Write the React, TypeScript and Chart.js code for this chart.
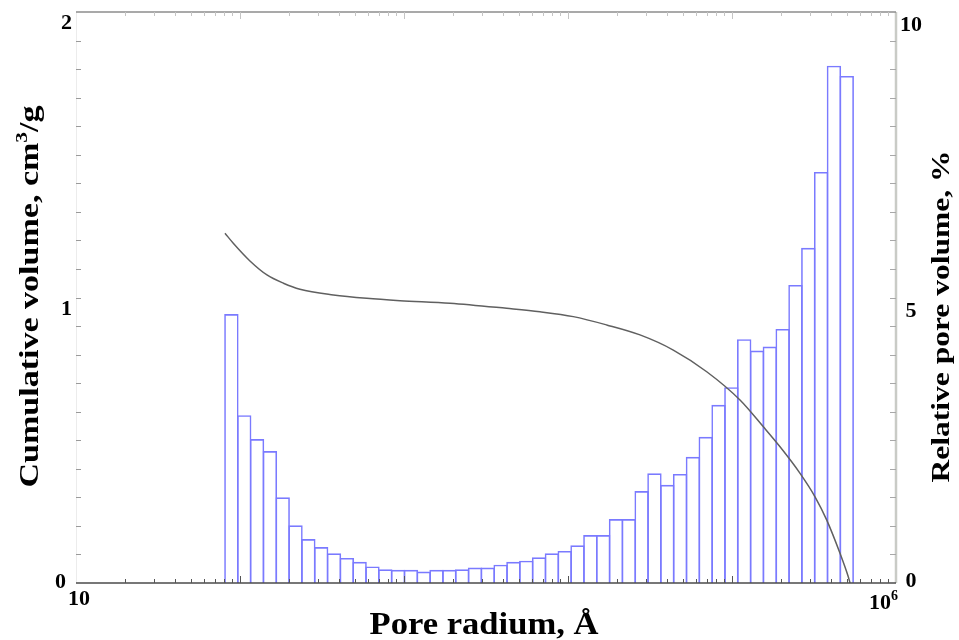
import React, { useEffect, useRef } from "react";
import { Chart, registerables } from "chart.js";

Chart.register(...registerables);

// Histogram bins (pore radius bin centres, Å) and relative pore volume (%)
const binCenters = [
  88.6, 106.1, 127.0, 152.1, 182.1, 218.0, 261.0, 312.5, 374.1, 447.9, 536.2, 642.0, 768.6, 920.0,
  1102, 1319, 1579, 1890, 2263, 2709, 3243, 3883, 4648, 5565, 6662, 7976, 9550, 11430, 13690, 16390,
  19620, 23490, 28120, 33660, 40300, 48250, 57770, 69160, 82800, 99100, 118700, 142100, 170100,
  203700, 243800, 291900, 349400, 418300, 500800,
];
const relativeVolume = [
  4.71, 2.94, 2.52, 2.31, 1.5, 1.01, 0.77, 0.63, 0.52, 0.44, 0.37, 0.29, 0.24, 0.23, 0.23, 0.2, 0.23,
  0.23, 0.24, 0.27, 0.27, 0.32, 0.37, 0.39, 0.45, 0.52, 0.56, 0.66, 0.84, 0.84, 1.12, 1.12, 1.61, 1.92,
  1.72, 1.91, 2.21, 2.56, 3.12, 3.43, 4.27, 4.07, 4.14, 4.45, 5.22, 5.87, 7.2, 9.06, 8.88,
];

// Cumulative volume curve (cm3/g) vs pore radius (Å)
const curveRadius = [
  81, 91, 115, 146, 184, 232, 371, 593, 946, 1907, 4226, 6745, 10770, 17200, 27480, 43850, 70130,
  111900, 155300, 196300, 260000, 320800, 377700, 455600, 511700, 524500,
];
const cumulativeVolume = [
  1.225, 1.19, 1.128, 1.079, 1.05, 1.029, 1.009, 0.997, 0.989, 0.98, 0.962, 0.95, 0.933, 0.904, 0.869,
  0.816, 0.74, 0.641, 0.547, 0.477, 0.384, 0.302, 0.221, 0.104, 0.022, 0,
];

// Tick values and labels
const xTickValues = [10, 1e6];
const xTickLabels = ["10", "10^6"];
const leftTickValues = [0, 1, 2];
const leftTickLabels = ["0", "1", "2"];
const rightTickValues = [0, 5, 10];
const rightTickLabels = ["0", "5", "10"];

const xTitle = "Pore radium, Å";
const leftTitle = "Cumulative volume, cm^3/g";
const rightTitle = "Relative pore volume, %";

const FONT = '"Liberation Serif", "Times New Roman", serif';

type Part = { t: string; size: number; dy: number };

function parts(text: string, size: number): Part[] {
  const out: Part[] = [];
  const re = /\^(\w)/g;
  let last = 0;
  let m: RegExpExecArray | null;
  while ((m = re.exec(text))) {
    if (m.index > last) out.push({ t: text.slice(last, m.index), size, dy: 0 });
    out.push({ t: m[1], size: Math.round(size * 0.62), dy: -Math.round(size * 0.42) });
    last = m.index + m[0].length;
  }
  if (last < text.length) out.push({ t: text.slice(last), size, dy: 0 });
  return out;
}

function drawText(
  ctx: CanvasRenderingContext2D,
  ps: Part[],
  x: number,
  y: number,
  rot: number,
  align: "left" | "center" | "right",
  targetLen?: number
) {
  ctx.save();
  let total = 0;
  const widths = ps.map((p) => {
    ctx.font = `bold ${p.size}px ${FONT}`;
    const w = ctx.measureText(p.t).width;
    total += w;
    return w;
  });
  const s = targetLen ? targetLen / total : 1;
  ctx.translate(x, y);
  ctx.rotate(rot);
  ctx.scale(s, 1);
  let cx = align === "center" ? -total / 2 : align === "right" ? -total : 0;
  ctx.fillStyle = "#000";
  ctx.textAlign = "left";
  ctx.textBaseline = "alphabetic";
  ps.forEach((p, i) => {
    ctx.font = `bold ${p.size}px ${FONT}`;
    ctx.fillText(p.t, cx, p.dy);
    cx += widths[i];
  });
  ctx.restore();
}

const framePlugin = {
  id: "frameAndLabels",
  afterDatasetsDraw(chart: any) {
    const ctx: CanvasRenderingContext2D = chart.ctx;
    const { left, right, top, bottom } = chart.chartArea;
    const xs = chart.scales.x;
    const yl = chart.scales.y;
    const yr = chart.scales.y1;
    ctx.save();
    // left faint border
    ctx.strokeStyle = "#ececec";
    ctx.lineWidth = 1;
    ctx.beginPath();
    ctx.moveTo(left + 0.5, top);
    ctx.lineTo(left + 0.5, bottom);
    ctx.stroke();
    // right border
    ctx.strokeStyle = "#c9cbc6";
    ctx.lineWidth = 2.5;
    ctx.beginPath();
    ctx.moveTo(right, top);
    ctx.lineTo(right, bottom);
    ctx.stroke();
    // top border
    ctx.strokeStyle = "#8c8c8c";
    ctx.lineWidth = 1.5;
    ctx.beginPath();
    ctx.moveTo(left, top);
    ctx.lineTo(right, top);
    ctx.stroke();
    // bottom axis
    ctx.strokeStyle = "#4a4a4a";
    ctx.lineWidth = 1.5;
    ctx.beginPath();
    ctx.moveTo(left, bottom);
    ctx.lineTo(right, bottom);
    ctx.stroke();

    // left minor ticks every 0.1
    ctx.lineWidth = 1;
    ctx.strokeStyle = "#9a9a9a";
    for (let i = 1; i < 20; i++) {
      const py = Math.round(yl.getPixelForValue(i / 10)) + 0.5;
      ctx.beginPath();
      ctx.moveTo(left, py);
      ctx.lineTo(left + 5, py);
      ctx.stroke();
    }
    // right ticks every 0.5
    ctx.strokeStyle = "#a8a8a8";
    for (let i = 1; i < 20; i++) {
      const py = Math.round(yr.getPixelForValue(i / 2)) + 0.5;
      ctx.beginPath();
      ctx.moveTo(right - 6, py);
      ctx.lineTo(right, py);
      ctx.stroke();
    }
    // log ticks bottom / top
    for (let n = 1; n <= 5; n++) {
      for (let k = 1; k <= 9; k++) {
        const v = k * Math.pow(10, n);
        if (v <= 10 || v >= 1e6) continue;
        const px = Math.round(xs.getPixelForValue(v)) + 0.5;
        const len = k === 1 ? 7 : 4;
        ctx.strokeStyle = "#555";
        ctx.beginPath();
        ctx.moveTo(px, bottom);
        ctx.lineTo(px, bottom - len);
        ctx.stroke();
        ctx.strokeStyle = "#c4c4c4";
        ctx.beginPath();
        ctx.moveTo(px, top);
        ctx.lineTo(px, top + len);
        ctx.stroke();
      }
    }
    ctx.restore();

    // tick labels
    leftTickValues.forEach((v, i) => {
      const py = yl.getPixelForValue(v);
      drawText(ctx, parts(leftTickLabels[i], 22), v === 0 ? left - 10 : left - 4, py + (v === 0 ? 5 : 17), 0, "right");
    });
    rightTickValues.forEach((v, i) => {
      const py = yr.getPixelForValue(v);
      drawText(ctx, parts(rightTickLabels[i], 22), right + 15, py + (v === 0 ? 4 : 19), 0, "center");
    });
    xTickValues.forEach((v, i) => {
      const px = xs.getPixelForValue(v);
      const isFirst = i === 0;
      drawText(ctx, parts(xTickLabels[i], 22), isFirst ? px - 8 : px + 2, bottom + (isFirst ? 22 : 26), 0, isFirst ? "left" : "right");
    });

    // titles
    drawText(ctx, parts(xTitle, 32), (left + right) / 2 - 2, 634, 0, "center", 229);
    drawText(ctx, parts(leftTitle, 27), 38, (top + bottom) / 2 - 1, -Math.PI / 2, "center", 382);
    drawText(ctx, parts(rightTitle, 25), 949, (top + bottom) / 2 + 19, -Math.PI / 2, "center", 332);
  },
};

export default function App() {
  const ref = useRef<HTMLCanvasElement | null>(null);
  useEffect(() => {
    if (!ref.current) return;
    const chart = new Chart(ref.current, {
      type: "bar",
      data: {
        datasets: [
          {
            type: "line",
            data: curveRadius.map((r, i) => ({ x: r, y: cumulativeVolume[i] })),
            xAxisID: "x",
            yAxisID: "y",
            borderColor: "#606060",
            borderWidth: 1.5,
            pointRadius: 0,
            fill: false,
            cubicInterpolationMode: "monotone",
            order: 0,
          } as any,
          {
            type: "bar",
            data: binCenters.map((r, i) => ({ x: r, y: relativeVolume[i] })),
            xAxisID: "x",
            yAxisID: "y1",
            borderColor: "#7a7aff",
            borderWidth: 1.6,
            backgroundColor: "rgba(255,255,255,0)",
            barPercentage: 1.125,
            categoryPercentage: 1,
            borderSkipped: "bottom",
            order: 1,
          } as any,
        ],
      },
      options: {
        responsive: false,
        maintainAspectRatio: false,
        animation: false,
        layout: { padding: { top: 12, left: 0, right: 0, bottom: 0 } },
        plugins: { legend: { display: false }, tooltip: { enabled: false } },
        scales: {
          x: {
            type: "logarithmic",
            position: "bottom",
            min: 10,
            max: 1e6,
            offset: false,
            grid: { display: false },
            border: { display: false },
            ticks: { display: false },
            afterBuildTicks: (s: any) => {
              s.ticks = xTickValues.map((v) => ({ value: v }));
            },
            afterFit: (s: any) => {
              s.height = 57;
            },
          },
          y: {
            type: "linear",
            position: "left",
            min: 0,
            max: 2,
            grid: { display: false },
            border: { display: false },
            ticks: { display: false },
            afterFit: (s: any) => {
              s.width = 76;
            },
          },
          y1: {
            type: "linear",
            position: "right",
            min: 0,
            max: 10,
            grid: { display: false },
            border: { display: false },
            ticks: { display: false },
            afterFit: (s: any) => {
              s.width = 63;
            },
          },
        },
      } as any,
      plugins: [framePlugin],
    });
    return () => chart.destroy();
  }, []);
  return (
    <canvas
      ref={ref}
      width={959}
      height={640}
      style={{ position: "fixed", left: 0, top: 0, width: 959, height: 640, display: "block", background: "#fff" }}
    />
  );
}
